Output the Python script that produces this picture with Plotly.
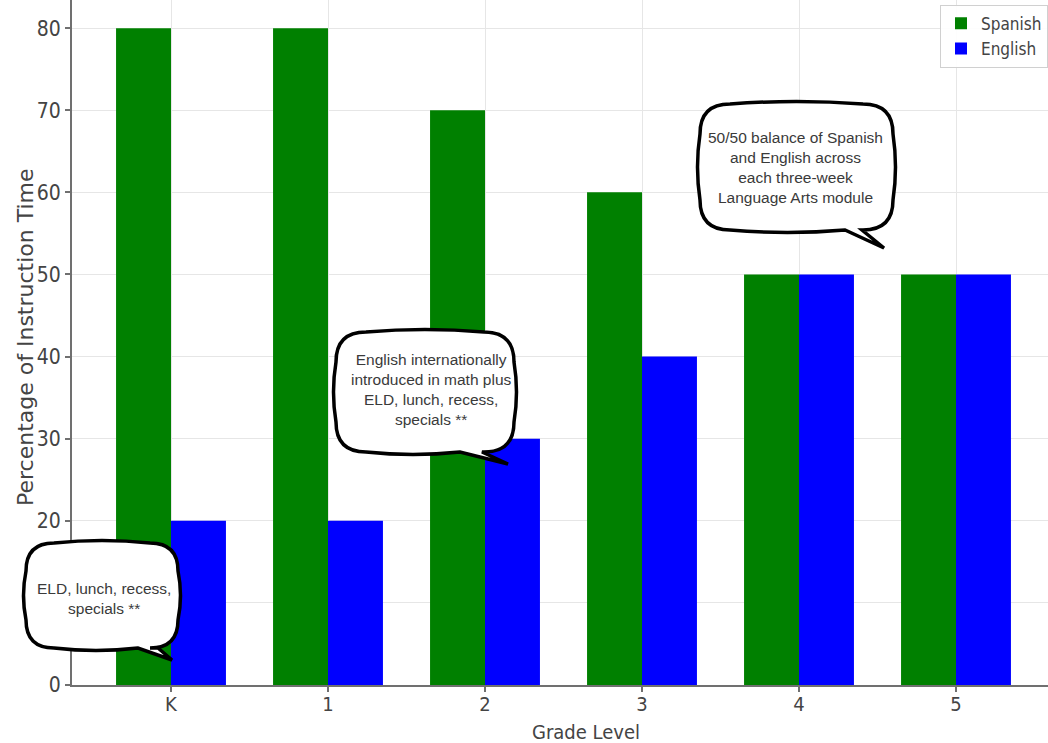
import plotly.graph_objects as go

# ---- data ----
grades = ["K", "1", "2", "3", "4", "5"]
grade_pos = [0, 1, 2, 3, 4, 5]
spanish = [80, 80, 70, 60, 50, 50]
english = [20, 20, 30, 40, 50, 50]
y_ticks = [0, 10, 20, 30, 40, 50, 60, 70, 80]
note_texts = [
    "ELD, lunch, recess,<br>specials **",
    "English internationally<br>introduced in math plus<br>ELD, lunch, recess,<br>specials **",
    "50/50 balance of Spanish<br>and English across<br>each three-week<br>Language Arts module",
]

# ---- layout geometry (pixels) ----
W, H = 1048, 743
ML, MR, MT, MB = 72, 0, 0, 58
PW, PH = W - ML - MR, H - MT - MB

NARROW = "Liberation Sans Narrow, DejaVu Sans Condensed, Arial Narrow, sans-serif"
REG = "Liberation Sans, Arial, sans-serif"


def px(x, y):
    return (x - ML) / PW, (H - MB - y) / PH


def P(x, y):
    a, b = px(x, y)
    return f"{a:.5f},{b:.5f}"


def bubble(x0, y0, x1, y1, r, bulge, tb0, tb1, tip):
    c = []
    c.append("M" + P(x0 + r, y0))
    c.append("Q" + P((x0 + x1) / 2, y0 - bulge) + " " + P(x1 - r, y0))
    c.append("Q" + P(x1, y0) + " " + P(x1, y0 + r))
    c.append("Q" + P(x1 + bulge, (y0 + y1) / 2) + " " + P(x1, y1 - r))
    c.append("Q" + P(x1, y1) + " " + P(x1 - r, y1))
    c.append("L" + P(tb1, y1))
    c.append("L" + P(*tip))
    c.append("L" + P(tb0, y1))
    c.append("Q" + P((tb0 + x0 + r) / 2, y1 + bulge) + " " + P(x0 + r, y1))
    c.append("Q" + P(x0, y1) + " " + P(x0, y1 - r))
    c.append("Q" + P(x0 - bulge, (y0 + y1) / 2) + " " + P(x0, y0 + r))
    c.append("Q" + P(x0, y0) + " " + P(x0 + r, y0))
    c.append("Z")
    return " ".join(c)


fig = go.Figure()
fig.add_trace(go.Bar(x=grade_pos, y=spanish, name="Spanish",
                     marker=dict(color="#008000", line=dict(width=0))))
fig.add_trace(go.Bar(x=grade_pos, y=english, name="English",
                     marker=dict(color="#0000ff", line=dict(width=0))))

bubbles = [
    dict(box=(26, 543, 178, 648, 28, 5, 138, 158, (172, 660)), center=(104, 598)),
    dict(box=(336, 332, 514, 452, 30, 5, 460, 482, (508, 464)), center=(431, 389)),
    dict(box=(700, 104, 893, 230, 30, 5, 845, 862, (884, 248)), center=(795, 168)),
]

shapes = []
annotations = []
for b, txt in zip(bubbles, note_texts):
    shapes.append(dict(type="path", xref="paper", yref="paper", path=bubble(*b["box"]),
                       fillcolor="white", line=dict(color="black", width=3.5), layer="above"))
    cx, cy = px(*b["center"])
    annotations.append(dict(x=cx, y=cy, xref="paper", yref="paper", text=txt,
                            showarrow=False, xanchor="center", yanchor="middle",
                            font=dict(family=REG, size=15.5, color="#3a3a3a")))

tx, ty = px(25, 337)
annotations.append(dict(x=tx, y=ty, xref="paper", yref="paper", text="Percentage of Instruction Time",
                        textangle=-90, showarrow=False, xanchor="center", yanchor="middle",
                        font=dict(family="DejaVu Sans, sans-serif", size=22, color="#444444")))
gx, gy = px(586, 732)
annotations.append(dict(x=gx, y=gy, xref="paper", yref="paper", text="Grade Level",
                        showarrow=False, xanchor="center", yanchor="middle",
                        font=dict(family=NARROW, size=20, color="#444444")))

fig.update_layout(
    width=W, height=H,
    margin=dict(l=ML, r=MR, t=MT, b=MB, pad=0),
    paper_bgcolor="white", plot_bgcolor="white",
    barmode="group", bargap=0.3, bargroupgap=0,
    shapes=shapes, annotations=annotations,
    legend=dict(x=1, y=0.993, xanchor="right", yanchor="top",
                bgcolor="rgba(255,255,255,0.9)", bordercolor="#d0d0d0", borderwidth=1,
                font=dict(family=NARROW, size=17, color="#444444"),
                tracegroupgap=2),
    xaxis=dict(range=[-0.6306, 5.586], tickmode="array", tickvals=grade_pos, ticktext=grades,
               showgrid=True, gridcolor="#e6e6e6", gridwidth=1,
               showline=True, linecolor="#707070", linewidth=2,
               ticks="outside", ticklen=5, tickcolor="#707070", tickwidth=1.5,
               ticklabelstandoff=-5,
               tickfont=dict(family=NARROW, size=20, color="#444444"),
               zeroline=False),
    yaxis=dict(range=[0, 83.43], tickmode="array", tickvals=y_ticks,
               showgrid=True, gridcolor="#e6e6e6", gridwidth=1,
               showline=True, linecolor="#707070", linewidth=2,
               ticks="outside", ticklen=5, tickcolor="#707070", tickwidth=1.5,
               tickfont=dict(family=NARROW, size=21, color="#444444"),
               zeroline=False),
)

fig.write_html("out.html", config={"displayModeBar": False},
               post_script="document.body.style.margin='0';document.body.style.overflow='hidden';")
